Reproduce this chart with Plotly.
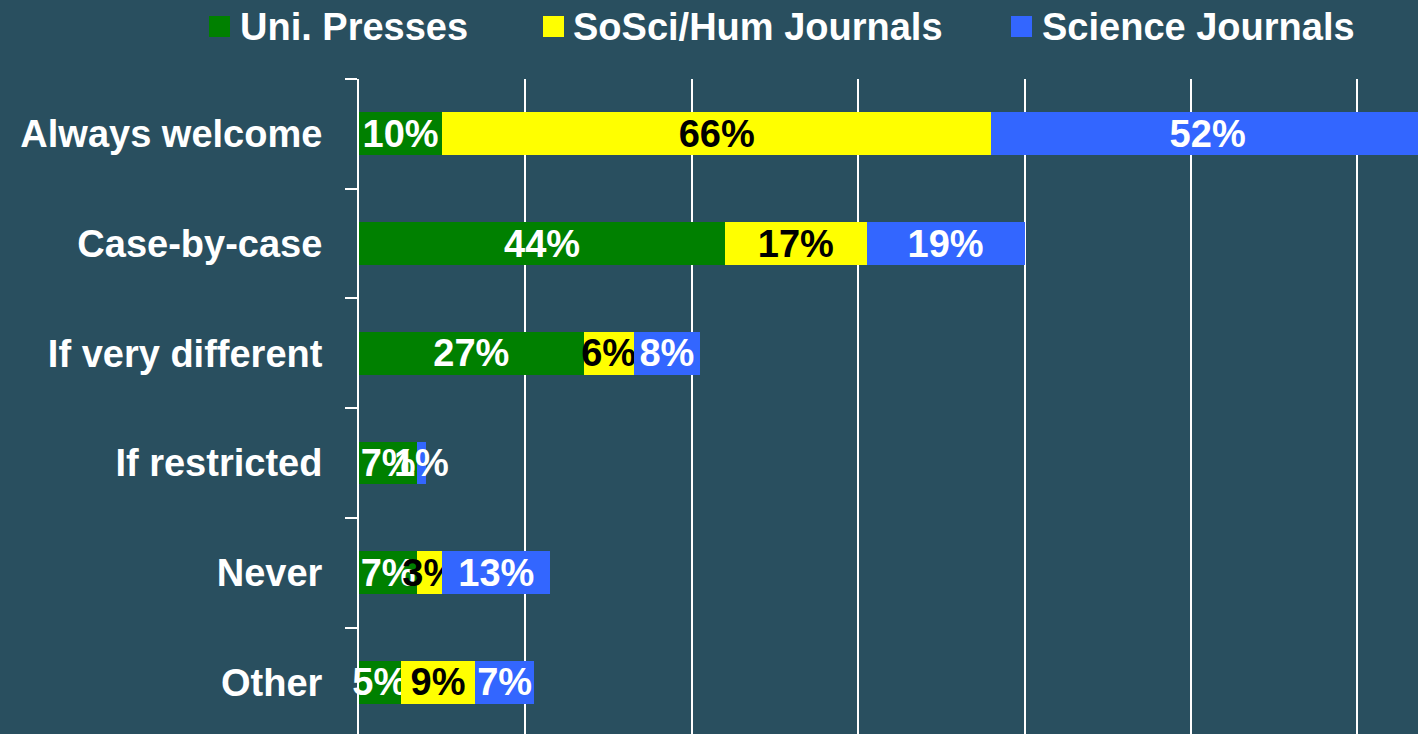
import plotly.graph_objects as go

categories = ["Always welcome", "Case-by-case", "If very different", "If restricted", "Never", "Other"]
uni_presses = [10, 44, 27, 7, 7, 5]
sosci_hum = [66, 17, 6, 0, 3, 9]
science = [52, 19, 8, 1, 13, 7]

series_names = ["Uni. Presses", "SoSci/Hum Journals", "Science Journals"]
series_values = [uni_presses, sosci_hum, science]
series_colors = ["#008000", "#ffff00", "#3366ff"]
text_colors = ["white", "black", "white"]

# figure slightly wider than the 1418 px window: the right end is cut off, as in the reference
W, H = 1426, 734
ML, MR, MT, MB = 359, 0, 79, 0
PX_PER_UNIT = 8.32
BG = "#294f5f"
FONT = "Liberation Sans, Arial, Helvetica, sans-serif"
FS = 38

fig = go.Figure()
for name, vals, col, tcol in zip(series_names, series_values, series_colors, text_colors):
    fig.add_trace(go.Bar(
        y=categories, x=vals, orientation="h", name=name,
        marker=dict(color=col, line=dict(width=0)),
        text=[f"{v}%" for v in vals],
        textposition="inside", insidetextanchor="middle",
        textangle=0, constraintext="none", cliponaxis=False,
        textfont=dict(family=FONT, size=FS, color=tcol, weight="bold"),
        showlegend=False,
    ))

# legend drawn as squares + labels above plot
pw = W - ML - MR
ph = H - MT - MB
def px(X):
    return (X - ML) / pw
def py(Y):
    return (H - MB - Y) / ph

legend_sq_x = [209, 543, 1011]
legend_txt_x = [240, 573, 1042]
shapes = []
annotations = []
for lx, tx, name, col in zip(legend_sq_x, legend_txt_x, series_names, series_colors):
    shapes.append(dict(type="rect", xref="paper", yref="paper",
                       x0=px(lx), x1=px(lx + 21), y0=py(37), y1=py(16),
                       fillcolor=col, line=dict(width=0)))
    annotations.append(dict(xref="paper", yref="paper", x=px(tx - 2), y=py(27),
                            xanchor="left", yanchor="middle", showarrow=False,
                            text=name,
                            font=dict(family=FONT, size=FS, color="white", weight="bold")))

fig.update_layout(
    width=W, height=H,
    margin=dict(l=ML, r=MR, t=MT, b=MB, pad=0),
    paper_bgcolor=BG, plot_bgcolor=BG,
    barmode="stack", bargap=0.61,
    showlegend=False,
    shapes=shapes, annotations=annotations,
    xaxis=dict(range=[0, pw / PX_PER_UNIT], dtick=20, showgrid=True, gridcolor="white", gridwidth=2,
               showticklabels=False, zeroline=False, showline=False, ticks=""),
    yaxis=dict(type="category", categoryorder="array", categoryarray=categories,
               range=[5.47, -0.5], showline=True, linecolor="white", linewidth=2,
               ticks="outside", tickson="boundaries", ticklen=12, tickwidth=2, tickcolor="white",
               ticklabelstandoff=27,
               tickfont=dict(family=FONT, size=FS, color="white", weight="bold"),
               showgrid=False, zeroline=False),
)

fig.write_html(
    "out.html",
    config={"displayModeBar": False},
    post_script="document.body.style.margin='0';document.body.style.overflow='hidden';"
                "document.body.style.background='" + BG + "';",
)
